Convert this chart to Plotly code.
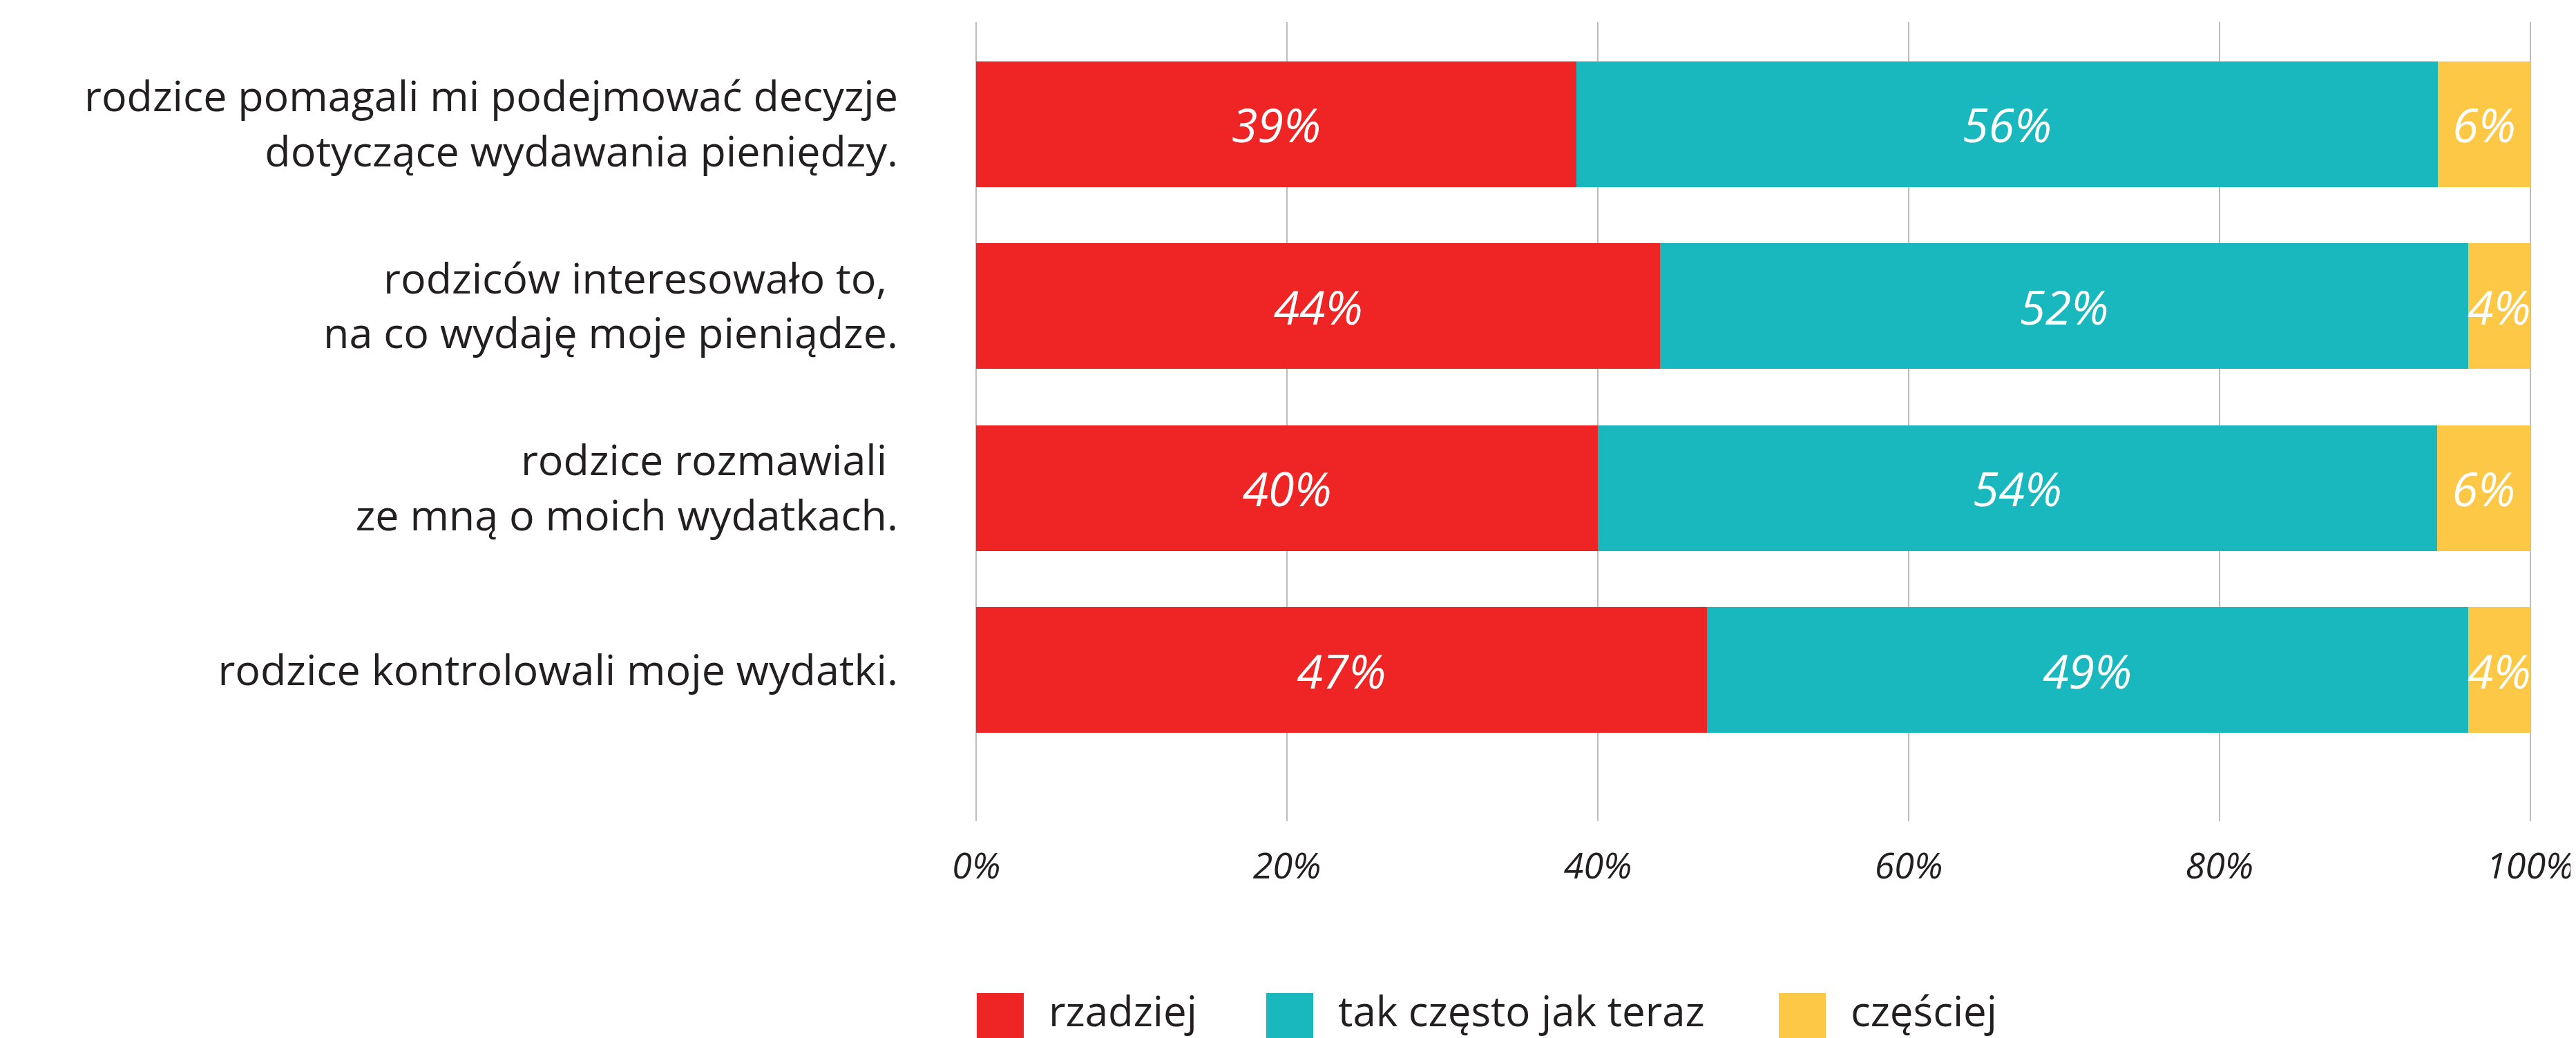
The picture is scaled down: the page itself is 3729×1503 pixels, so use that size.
import plotly.graph_objects as go

# ---- data ----
categories = [
    "rodzice pomagali mi podejmować decyzje<br>dotyczące wydawania pieniędzy.",
    "rodziców interesowało to, <br>na co wydaję moje pieniądze.",
    "rodzice rozmawiali <br>ze mną o moich wydatkach.",
    "rodzice kontrolowali moje wydatki.",
]
rzadziej = [39, 44, 40, 47]
tak_czesto = [56, 52, 54, 49]
czesciej = [6, 4, 6, 4]
series_names = ["rzadziej", "tak często jak teraz", "częściej"]
x_tick_vals = [0, 20, 40, 60, 80, 100]
x_tick_labels = ["0%", "20%", "40%", "60%", "80%", "100%"]

# ---- style ----
colors = ["#EE2524", "#19B8BE", "#FDC846"]
TEXT = "#231F20"
FONT = "Open Sans"
W, H = 3729, 1503
L, R, T, B = 1403, 72, 24, 322
PW, PH = W - L - R, H - T - B

fig = go.Figure()
for name, vals, col in zip(series_names, [rzadziej, tak_czesto, czesciej], colors):
    fig.add_trace(go.Bar(
        y=categories, x=vals, name=name, orientation="h",
        marker=dict(color=col, line=dict(width=0)),
        text=[f"{v}%" for v in vals],
        textposition="inside", insidetextanchor="middle", textangle=0,
        constraintext="none",
        textfont=dict(family=FONT, size=68, color="white", style="italic"),
        showlegend=False, hoverinfo="skip",
    ))

# manual legend (large square swatches like the reference)
def px_to_paper_x(px):
    return (px - L) / PW

def px_to_paper_y(py):
    return (H - B - py) / PH

legend_x = [1406, 1825, 2567]
sq = 68
leg_top = 1430
for name, col, lx in zip(series_names, colors, legend_x):
    fig.add_shape(type="rect", xref="paper", yref="paper",
                  x0=px_to_paper_x(lx), x1=px_to_paper_x(lx + sq),
                  y0=px_to_paper_y(leg_top + sq), y1=px_to_paper_y(leg_top),
                  fillcolor=col, line=dict(width=0))
    fig.add_annotation(xref="paper", yref="paper",
                       x=px_to_paper_x(lx + sq + 34), y=px_to_paper_y(1455),
                       text=name, showarrow=False, xanchor="left", yanchor="middle",
                       font=dict(family=FONT, size=60, color=TEXT))

fig.update_layout(
    width=W, height=H,
    margin=dict(l=L, r=R, t=T, b=B, pad=0),
    paper_bgcolor="white", plot_bgcolor="white",
    barmode="stack", barnorm="percent", bargap=0.31,
    showlegend=False,
    font=dict(family=FONT, color=TEXT),
    xaxis=dict(
        range=[-0.1, 100.1], tickvals=x_tick_vals, ticktext=x_tick_labels,
        showgrid=True, gridcolor="#BDBDBD", gridwidth=2,
        zeroline=False, showline=False, ticks="",
        ticklabelstandoff=30,
        tickfont=dict(family=FONT, size=52, color=TEXT, style="italic"),
    ),
    yaxis=dict(
        type="category", categoryorder="array", categoryarray=categories,
        range=[3.83, -0.56],
        showgrid=False, zeroline=False, showline=False, ticks="",
        ticklabelstandoff=110,
        tickfont=dict(family=FONT, size=61, color=TEXT),
    ),
)

fig.write_html("out.html")
